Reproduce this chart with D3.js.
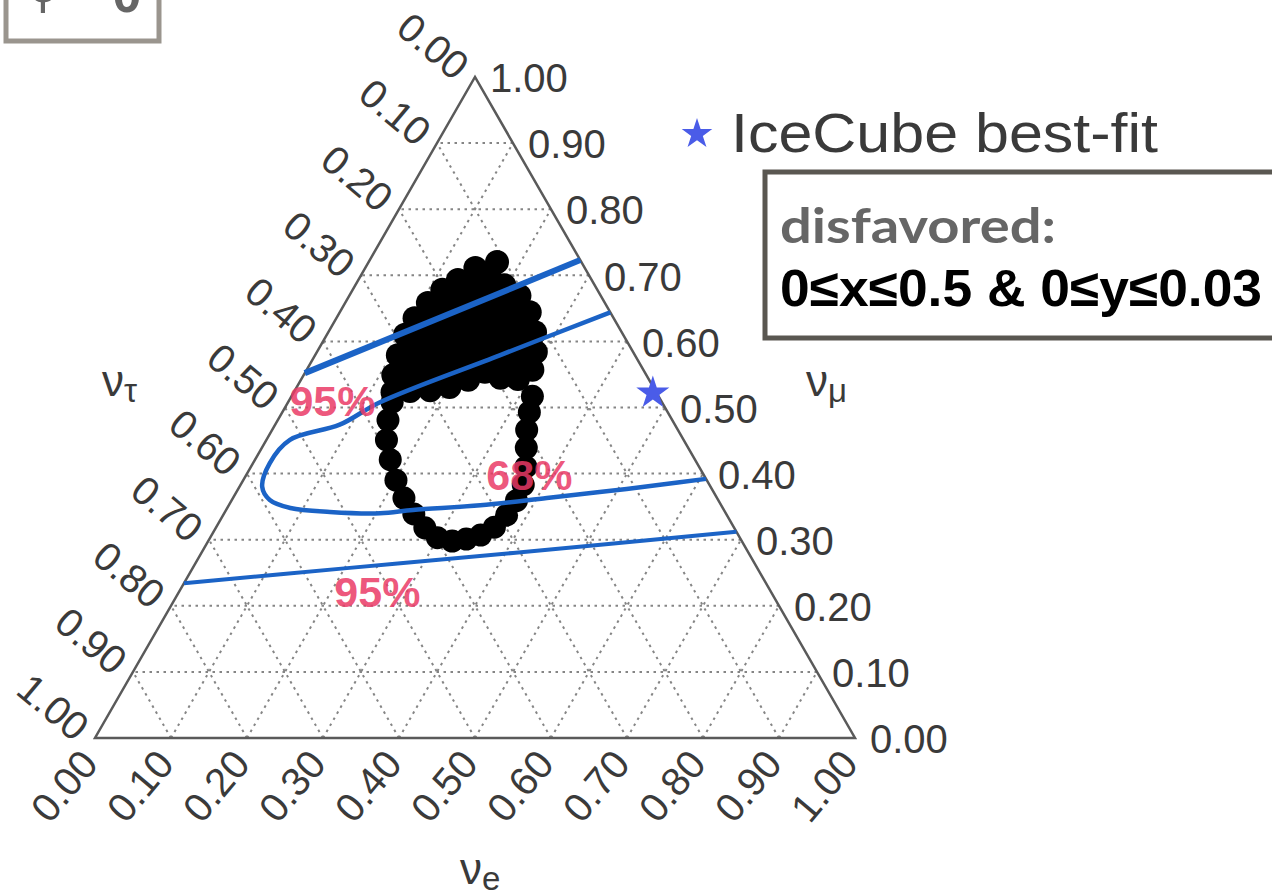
<!DOCTYPE html>
<html>
<head>
<meta charset="utf-8">
<script src="https://cdn.jsdelivr.net/npm/d3@7"></script>
<style>
  body { margin: 0; background: #fff; }
  svg { display: block; }
</style>
</head>
<body>
<div id="chart"></div>
<script>
// grid / tick fractions, same on all three sides
var ticks = [0, 0.1, 0.2, 0.3, 0.4, 0.5, 0.6, 0.7, 0.8, 0.9, 1.0];

// every point is [nu_e, nu_mu]; nu_tau = 1 - nu_e - nu_mu
var bandUpper = [[0.000, 0.552], [0.277, 0.723]];
var bandCurve = [[0.356, 0.644], [0.243, 0.579], [0.121, 0.508], [0.085, 0.474],
  [0.031, 0.451], [0.022, 0.416], [0.030, 0.380], [0.050, 0.360], [0.083, 0.348],
  [0.138, 0.342], [0.205, 0.340], [0.246, 0.345], [0.331, 0.352], [0.413, 0.363],
  [0.478, 0.372], [0.552, 0.383], [0.608, 0.392]];
var bandLower = [[0.000, 0.234], [0.203, 0.257], [0.410, 0.280], [0.688, 0.312]];

// filled part of the scan (dot centres round its edge)
var blobDots = [[0.169, 0.720], [0.145, 0.711], [0.131, 0.693], [0.118, 0.678],
  [0.109, 0.658], [0.103, 0.635], [0.103, 0.610], [0.109, 0.579], [0.118, 0.549],
  [0.130, 0.523], [0.152, 0.525], [0.178, 0.526], [0.201, 0.531], [0.220, 0.542],
  [0.236, 0.554], [0.261, 0.545], [0.285, 0.543], [0.297, 0.557], [0.288, 0.584],
  [0.272, 0.614], [0.250, 0.644], [0.224, 0.669], [0.196, 0.685], [0.172, 0.696]];

// ring of dots below it
var ringDots = [[0.137, 0.508], [0.145, 0.481], [0.158, 0.451], [0.178, 0.421],
  [0.201, 0.390], [0.225, 0.363], [0.250, 0.339], [0.275, 0.318], [0.299, 0.303],
  [0.321, 0.298], [0.338, 0.301], [0.354, 0.307], [0.366, 0.319], [0.373, 0.337],
  [0.375, 0.359], [0.372, 0.383], [0.362, 0.410], [0.348, 0.439], [0.335, 0.466],
  [0.325, 0.493], [0.317, 0.517]];

var bestFit = [0.473, 0.522];

var cLabels = ["95%", "68%", "95%"];
var cLabelPos = [[0.057, 0.511], [0.372, 0.399], [0.261, 0.221]];

var W = 1272, H = 896;
var blue = "#1b63c6", ink = "#3a3a3a";

var svg = d3.select("#chart").append("svg")
    .attr("width", W)
    .attr("height", H);

// ternary -> page
var x = d3.scaleLinear().domain([0, 1]).range([95, 855]);
var y = d3.scaleLinear().domain([0, 1]).range([738, 77]);
function px(p) { return x(p[0] + p[1] / 2); }
function py(p) { return y(p[1]); }
var fmt = d3.format(".2f");

var line = d3.line().x(px).y(py);
var smooth = d3.line().x(px).y(py).curve(d3.curveCatmullRom.alpha(0.5));

// dotted grid: constant nu_mu, constant nu_e, constant nu_tau
var grid = svg.append("g")
    .attr("stroke", "#858585")
    .attr("stroke-width", 2)
    .attr("stroke-dasharray", "2.5,4.5")
    .attr("fill", "none");
var inner = ticks.slice(1, -1);
grid.selectAll(".gmu").data(inner).enter().append("path")
    .attr("d", function (t) { return line([[1 - t, t], [0, t]]); });
grid.selectAll(".ge").data(inner).enter().append("path")
    .attr("d", function (t) { return line([[t, 0], [t, 1 - t]]); });
grid.selectAll(".gt").data(inner).enter().append("path")
    .attr("d", function (t) { return line([[1 - t, 0], [0, 1 - t]]); });

// triangle
svg.append("path")
    .attr("d", line([[0, 0], [1, 0], [0, 1]]) + "Z")
    .attr("fill", "none")
    .attr("stroke", "#5a5a5a")
    .attr("stroke-width", 2.5);

// tick labels
var labels = svg.append("g")
    .style("font-family", "'Liberation Sans', Arial, sans-serif")
    .style("font-size", "40px")
    .attr("fill", ink);

labels.selectAll(".tmu").data(ticks).enter().append("text")
    .attr("x", function (t) { return px([1 - t, t]) + 15; })
    .attr("y", function (t) { return py([1 - t, t]); })
    .attr("dy", "0.38em")
    .text(fmt);

labels.selectAll(".ttau").data(ticks).enter().append("text")
    .attr("text-anchor", "end")
    .attr("dy", "0.35em")
    .attr("transform", function (t) {
        return "translate(" + (px([0, 1 - t]) - 12) + "," + (py([0, 1 - t]) - 6) + ") rotate(40)";
    })
    .text(fmt);

labels.selectAll(".te").data(ticks).enter().append("text")
    .attr("text-anchor", "end")
    .attr("dy", "0.35em")
    .attr("transform", function (t) {
        return "translate(" + (px([t, 0]) - 6) + "," + (py([t, 0]) + 18) + ") rotate(-50)";
    })
    .text(fmt);

// axis titles
function axisTitle(tx, ty, sub) {
    var t = svg.append("text")
        .attr("x", tx).attr("y", ty)
        .style("font-family", "'Liberation Sans', Arial, sans-serif")
        .style("font-size", "44px")
        .attr("fill", ink)
        .text("\u03bd");
    t.append("tspan")
        .attr("dy", 6)
        .style("font-size", "33px")
        .text(sub);
}
axisTitle(102, 396, "\u03c4");
axisTitle(806, 396, "\u03bc");
axisTitle(460, 884, "e");

// scan points
svg.append("path")
    .attr("d", line(blobDots) + "Z")
    .attr("fill", "#000");
svg.selectAll(".blob").data(blobDots).enter().append("circle")
    .attr("cx", px).attr("cy", py).attr("r", 12)
    .attr("fill", "#000");
svg.selectAll(".ring").data(ringDots).enter().append("circle")
    .attr("cx", px).attr("cy", py).attr("r", 11.5)
    .attr("fill", "#000");

// 95% band edges
svg.append("path").attr("d", line(bandUpper))
    .attr("fill", "none").attr("stroke", blue).attr("stroke-width", 6);
svg.append("path").attr("d", smooth(bandCurve))
    .attr("fill", "none").attr("stroke", blue).attr("stroke-width", 4.5);
svg.append("path").attr("d", smooth(bandLower))
    .attr("fill", "none").attr("stroke", blue).attr("stroke-width", 4);

// contour labels
svg.selectAll(".clab").data(cLabels).enter().append("text")
    .attr("x", function (d, i) { return px(cLabelPos[i]); })
    .attr("y", function (d, i) { return py(cLabelPos[i]); })
    .attr("dy", "0.36em")
    .attr("text-anchor", "middle")
    .style("font-family", "'Liberation Sans', Arial, sans-serif")
    .style("font-size", "43px")
    .style("font-weight", "bold")
    .attr("fill", "#ea3a66")
    .attr("fill-opacity", 0.85)
    .text(function (d) { return d; });

// best-fit star
var star = d3.symbol().type(d3.symbolStar);
svg.append("path")
    .attr("d", star.size(340)())
    .attr("transform", "translate(" + px(bestFit) + "," + py(bestFit) + ")")
    .attr("fill", "#4a5ce8");

// legend
svg.append("path")
    .attr("d", star.size(290)())
    .attr("transform", "translate(697,134)")
    .attr("fill", "#4a5ce8");
svg.append("text")
    .attr("x", 731).attr("y", 152)
    .style("font-family", "'Liberation Sans', Arial, sans-serif")
    .style("font-size", "56px")
    .attr("fill", ink)
    .attr("textLength", 427)
    .attr("lengthAdjust", "spacingAndGlyphs")
    .text("IceCube best-fit");

// annotation box
svg.append("rect")
    .attr("x", 765).attr("y", 172)
    .attr("width", 560).attr("height", 166)
    .attr("fill", "#fff")
    .attr("stroke", "#5a5751")
    .attr("stroke-width", 5);
svg.append("text")
    .attr("x", 780).attr("y", 243)
    .style("font-family", "Lato, 'Open Sans', sans-serif")
    .style("font-size", "48px")
    .style("font-weight", "bold")
    .attr("fill", "#666")
    .attr("textLength", 276)
    .attr("lengthAdjust", "spacingAndGlyphs")
    .text("disfavored:");
svg.append("text")
    .attr("x", 780).attr("y", 306)
    .style("font-family", "'Liberation Sans Narrow', 'Liberation Sans', Arial, sans-serif")
    .style("font-size", "52px")
    .style("font-weight", "bold")
    .attr("fill", "#000")
    .attr("textLength", 482)
    .attr("lengthAdjust", "spacingAndGlyphs")
    .text("0\u2264x\u22640.5 & 0\u2264y\u22640.03");

// cut-off box in the corner (its text runs off the top, as in the source)
svg.append("rect")
    .attr("x", 6).attr("y", -20)
    .attr("width", 153).attr("height", 61)
    .attr("fill", "none")
    .attr("stroke", "#9a958e")
    .attr("stroke-width", 5);
svg.append("text")
    .attr("x", 43).attr("y", 2)
    .attr("text-anchor", "middle")
    .style("font-family", "'Liberation Sans', Arial, sans-serif")
    .style("font-size", "52px")
    .attr("fill", "#666")
    .text("\u03d5");
svg.append("text")
    .attr("x", 127).attr("y", 12)
    .attr("text-anchor", "middle")
    .style("font-family", "'Liberation Sans', Arial, sans-serif")
    .style("font-size", "52px")
    .style("font-weight", "bold")
    .attr("fill", "#666")
    .text("0");
</script>
</body>
</html>
